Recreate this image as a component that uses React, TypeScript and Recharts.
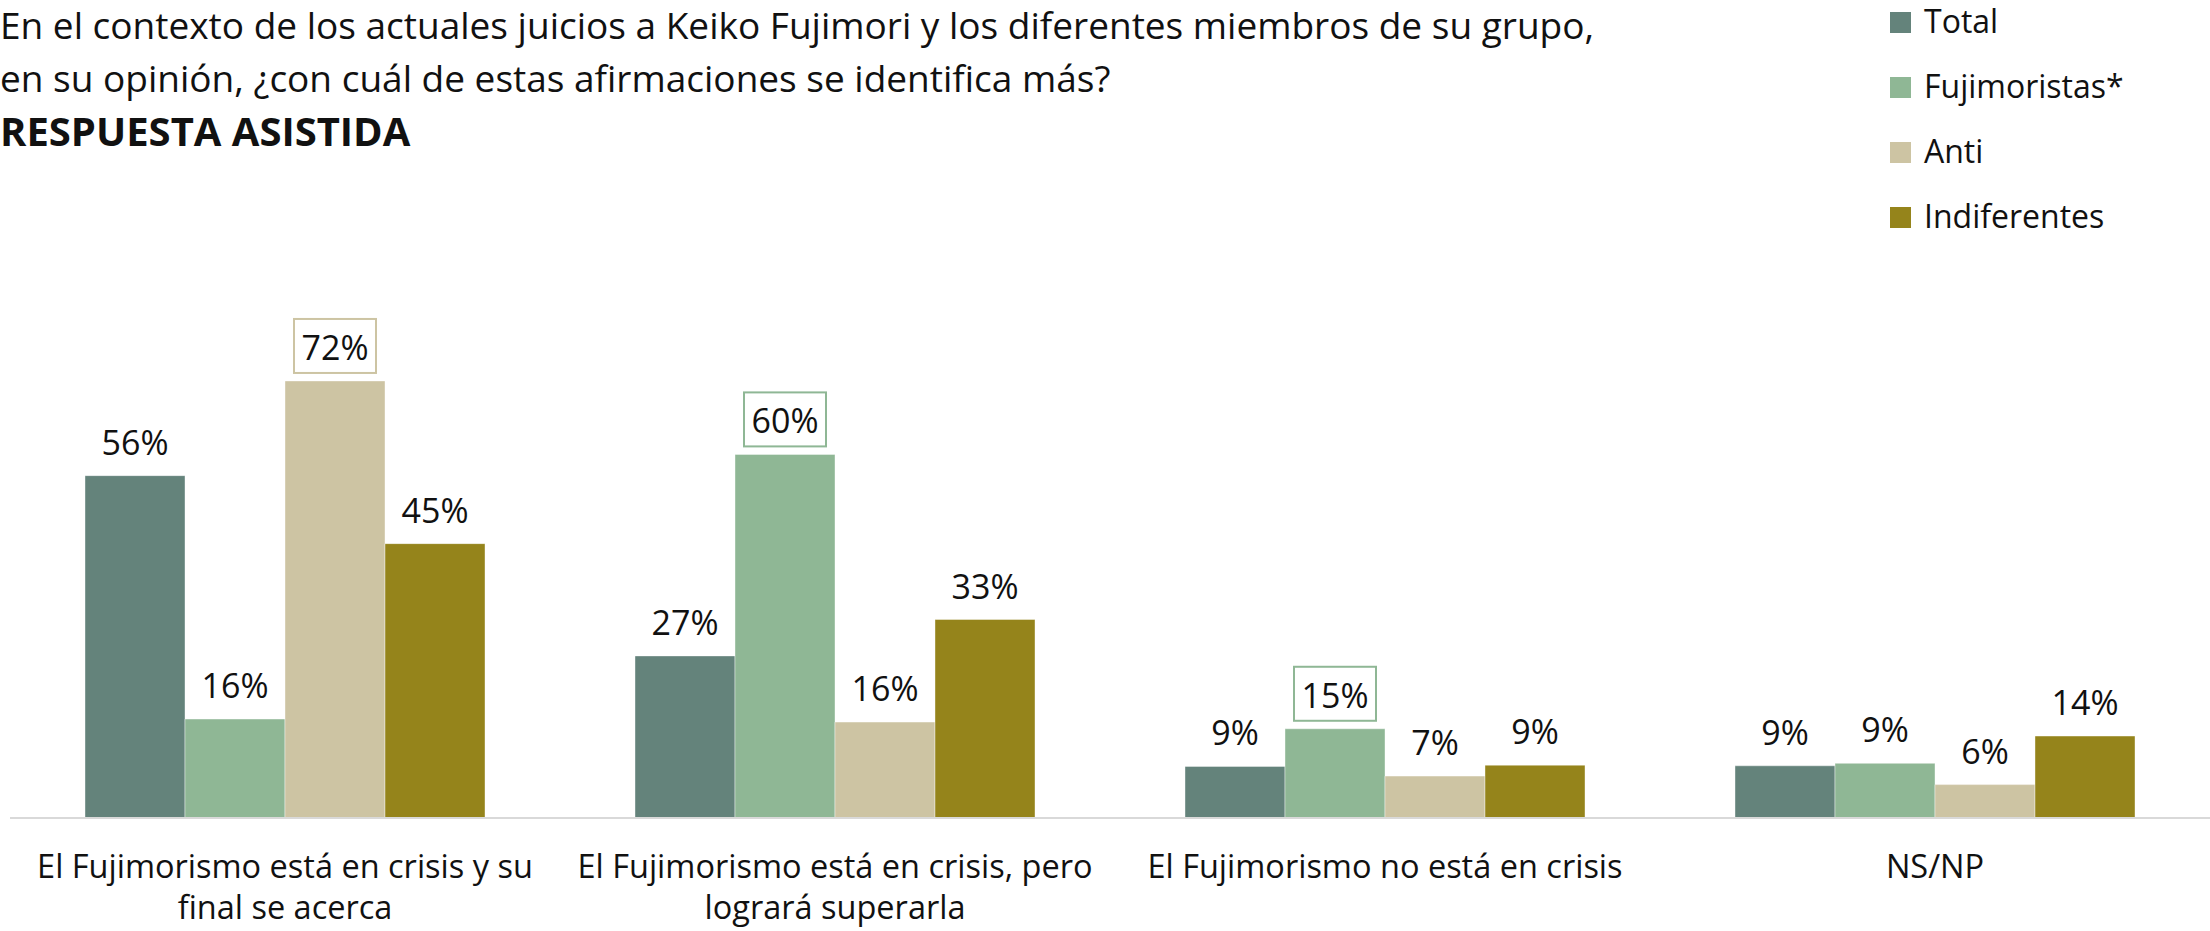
import { BarChart, Bar, XAxis, YAxis, LabelList, Legend } from "recharts"

const categories = [
    "El Fujimorismo está en crisis y su final se acerca",
    "El Fujimorismo está en crisis, pero logrará superarla",
    "El Fujimorismo no está en crisis",
    "NS/NP",
]

// tick labels as they wrap in the original
const categoryLines = [
    ["El Fujimorismo está en crisis y su", "final se acerca"],
    ["El Fujimorismo está en crisis, pero", "logrará superarla"],
    ["El Fujimorismo no está en crisis"],
    ["NS/NP"],
]

const total = [56.4, 26.7, 8.5, 8.6]
const fujimoristas = [16.3, 59.9, 14.7, 9.0]
const anti = [72.0, 15.8, 6.9, 5.5]
const indiferentes = [45.2, 32.7, 8.7, 13.5]

// which series gets the boxed label in each category
const highlight = ["Anti", "Fujimoristas*", "Fujimoristas*", null]

const titleLines = [
    "En el contexto de los actuales juicios a Keiko Fujimori y los diferentes miembros de su grupo,",
    "en su opinión, ¿con cuál de estas afirmaciones se identifica más?",
]
const subtitle = "RESPUESTA ASISTIDA"

const series = [
    { key: "total", name: "Total", color: "#64837b" },
    { key: "fujimoristas", name: "Fujimoristas*", color: "#8fb795" },
    { key: "anti", name: "Anti", color: "#cdc4a3" },
    { key: "indiferentes", name: "Indiferentes", color: "#95841b" },
]

const data = categories.map((name, i) => ({
    name,
    total: total[i],
    fujimoristas: fujimoristas[i],
    anti: anti[i],
    indiferentes: indiferentes[i],
}))

const FONT = "'Open Sans', sans-serif"

const CategoryTick = (props: any) => {
    const { x, y, payload } = props
    const lines = categoryLines[categories.indexOf(payload.value)] || [payload.value]
    return (
        <text x={x} y={y} textAnchor="middle" fontSize={32.5} fontFamily={FONT} fill="#111">
            {lines.map((l, i) => (
                <tspan key={i} x={x} dy={i === 0 ? 60 : 41}>
                    {l}
                </tspan>
            ))}
        </text>
    )
}

const makeLabel = (name: string, color: string) => (props: any) => {
    const { x, y, width, value, index } = props
    const cx = x + width / 2
    const boxed = highlight[index] === name
    return (
        <g>
            {boxed && (
                <rect
                    x={cx - 41}
                    y={y - 62}
                    width={82}
                    height={54}
                    fill="#fff"
                    stroke={color}
                    strokeWidth={2}
                />
            )}
            <text x={cx} y={y - 21} textAnchor="middle" fontSize={34} fontFamily={FONT} fill="#111">
                {Math.round(value)}%
            </text>
        </g>
    )
}

const renderLegend = () => (
    <div style={{ fontFamily: FONT, fontSize: 32, color: "#111" }}>
        {series.map((s) => (
            <div key={s.key} style={{ position: "relative", height: 65 }}>
                <div
                    style={{
                        position: "absolute",
                        left: 0,
                        top: 12,
                        width: 21,
                        height: 21,
                        background: s.color,
                    }}
                />
                <div style={{ position: "absolute", left: 34, top: -6, lineHeight: "53px", whiteSpace: "nowrap" }}>
                    {s.name}
                </div>
            </div>
        ))}
    </div>
)

export default function App() {
    return (
        <div
            style={{
                position: "absolute",
                left: 0,
                top: 0,
                width: 2210,
                height: 931,
                background: "#fff",
                overflow: "hidden",
            }}
        >
            <div
                style={{
                    position: "absolute",
                    left: 0,
                    top: -2,
                    fontFamily: FONT,
                    fontSize: 37,
                    lineHeight: "53px",
                    color: "#111",
                    whiteSpace: "nowrap",
                }}
            >
                {titleLines.map((t) => (
                    <div key={t}>{t}</div>
                ))}
                <div style={{ fontWeight: 700, fontSize: 40 }}>{subtitle}</div>
            </div>
            <BarChart
                width={2210}
                height={931}
                data={data}
                margin={{ top: 211, right: 0, left: 10, bottom: 13 }}
                barCategoryGap={75}
                barGap={0}
            >
                <XAxis
                    dataKey="name"
                    interval={0}
                    height={100}
                    tickLine={false}
                    tickSize={0}
                    tickMargin={0}
                    axisLine={{ stroke: "#d9d9d9", strokeWidth: 2 }}
                    tick={<CategoryTick />}
                />
                <YAxis hide domain={[0, 100]} />
                <Legend
                    layout="vertical"
                    align="center"
                    verticalAlign="middle"
                    wrapperStyle={{ left: 1890, top: 0, width: 320 }}
                    content={renderLegend}
                />
                {series.map((s) => (
                    <Bar
                        key={s.key}
                        dataKey={s.key}
                        name={s.name}
                        fill={s.color}
                        stroke="#ffffff"
                        strokeOpacity={0.4}
                        strokeWidth={1}
                        isAnimationActive={false}
                    >
                        <LabelList dataKey={s.key} content={makeLabel(s.name, s.color)} />
                    </Bar>
                ))}
            </BarChart>
        </div>
    )
}
